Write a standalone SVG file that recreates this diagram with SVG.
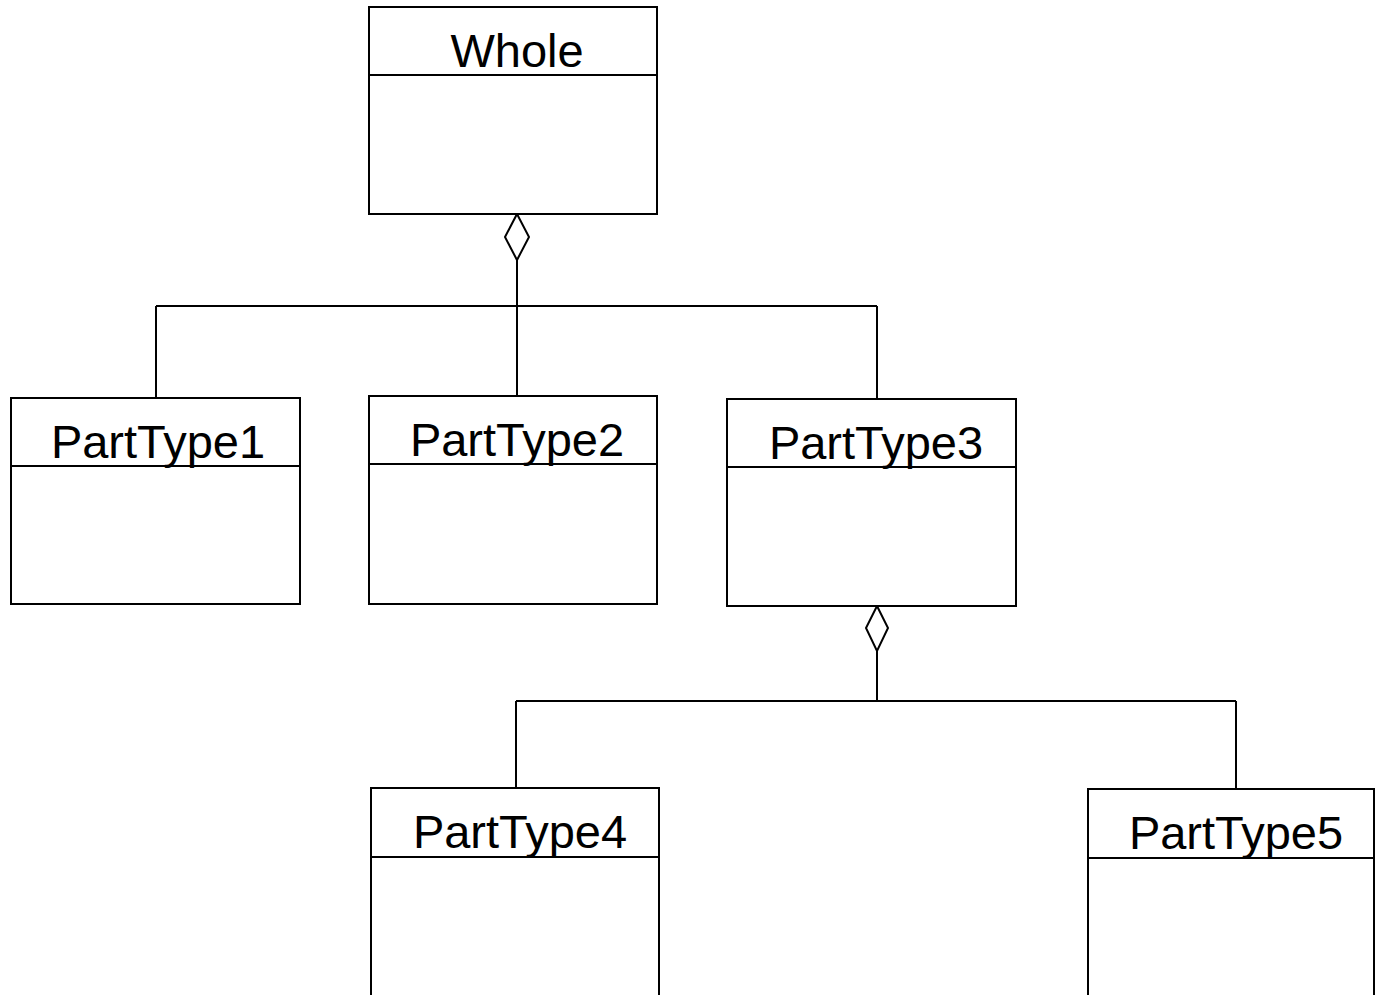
<svg xmlns="http://www.w3.org/2000/svg" width="1375" height="995" viewBox="0 0 1375 995">
<style>
.box{fill:#fff;stroke:#000;stroke-width:2}
.ln{fill:none;stroke:#000;stroke-width:2}
.dia{fill:#fff;stroke:#000;stroke-width:2}
.t{font-family:"Liberation Sans",Arial,sans-serif;font-size:47px;fill:#000;text-anchor:middle}
</style>
<rect width="1375" height="995" fill="#fff"/>
<g id="connectors">
<line class="ln" x1="517" y1="259" x2="517" y2="396"/>
<line class="ln" x1="156" y1="306" x2="877" y2="306"/>
<line class="ln" x1="156" y1="306" x2="156" y2="398"/>
<line class="ln" x1="877" y1="306" x2="877" y2="399"/>
<polygon class="dia" points="517,214 529,237 517,260 505,237"/>
<line class="ln" x1="877" y1="650" x2="877" y2="701"/>
<line class="ln" x1="516" y1="701" x2="1236" y2="701"/>
<line class="ln" x1="516" y1="701" x2="516" y2="788"/>
<line class="ln" x1="1236" y1="701" x2="1236" y2="789"/>
<polygon class="dia" points="877,606 888,628 877,651 866,628"/>
</g>
<g id="whole">
<rect class="box" x="369" y="7" width="288" height="207"/>
<line class="ln" x1="369" y1="75" x2="657" y2="75"/>
<text class="t" x="517" y="67">Whole</text>
</g>
<g id="parttype1">
<rect class="box" x="11" y="398" width="289" height="206"/>
<line class="ln" x1="11" y1="466" x2="300" y2="466"/>
<text class="t" x="158" y="458">PartType1</text>
</g>
<g id="parttype2">
<rect class="box" x="369" y="396" width="288" height="208"/>
<line class="ln" x1="369" y1="464" x2="657" y2="464"/>
<text class="t" x="517" y="456">PartType2</text>
</g>
<g id="parttype3">
<rect class="box" x="727" y="399" width="289" height="207"/>
<line class="ln" x1="727" y1="467" x2="1016" y2="467"/>
<text class="t" x="876" y="459">PartType3</text>
</g>
<g id="parttype4">
<rect class="box" x="371" y="788" width="288" height="215"/>
<line class="ln" x1="371" y1="857" x2="659" y2="857"/>
<text class="t" x="520" y="848">PartType4</text>
</g>
<g id="parttype5">
<rect class="box" x="1088" y="789" width="286" height="215"/>
<line class="ln" x1="1088" y1="858" x2="1374" y2="858"/>
<text class="t" x="1236" y="849">PartType5</text>
</g>
</svg>
